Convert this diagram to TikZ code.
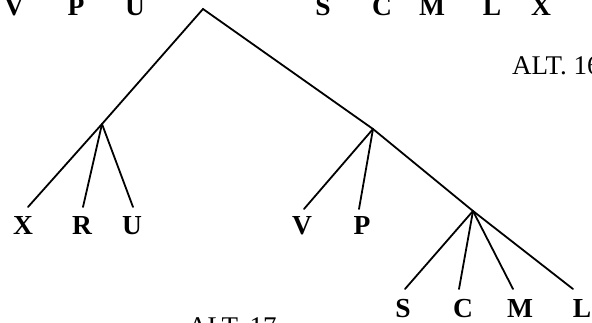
\documentclass[tikz,border=0pt]{standalone}
\usepackage{fontspec}
\setmainfont{Liberation Serif}
\begin{document}
\begin{tikzpicture}[x=1pt,y=-1pt,
  edge/.style={line width=1.8pt,line cap=round,line join=miter},
  leaf/.style={font=\fontsize{27.5}{30}\selectfont\bfseries,anchor=base,inner sep=0pt},
  altlbl/.style={font=\fontsize{27}{30}\selectfont,anchor=base west,inner sep=0pt}]
\useasboundingbox (0,0) rectangle (592,323);
% tree points
\coordinate (r) at (203,9);
\coordinate (a) at (102,124);
\coordinate (b) at (373,129);
\coordinate (c) at (473,211);
\coordinate (ex) at (28,207);
\coordinate (er) at (83,207);
\coordinate (eu) at (133,207);
\coordinate (ev) at (304,209);
\coordinate (ep) at (359,209);
\coordinate (es) at (405,289);
\coordinate (ec) at (459,289);
\coordinate (em) at (513,289);
\coordinate (el) at (573,289);
% connectors
\draw[edge] (a) -- (r) -- (b) -- (c) -- (el);
\draw[edge] (a) -- (ex);
\draw[edge] (a) -- (er);
\draw[edge] (a) -- (eu);
\draw[edge] (b) -- (ev);
\draw[edge] (b) -- (ep);
\draw[edge] (c) -- (es);
\draw[edge] (c) -- (ec);
\draw[edge] (c) -- (em);
% leaf labels
\node[leaf] (lx) at (23,235) {X};
\node[leaf] (lr) at (82,235) {R};
\node[leaf] (lu) at (132,235) {U};
\node[leaf] (lv) at (302,235) {V};
\node[leaf] (lp) at (362,235) {P};
\node[leaf] (ls) at (403,317) {S};
\node[leaf] (lc) at (463,317) {C};
\node[leaf] (lm) at (520,317) {M};
\node[leaf] (ll) at (582,317) {L};
% top row
\node[leaf] (tv) at (14,15.5) {V};
\node[leaf] (tp) at (76,15.5) {P};
\node[leaf] (tu) at (135,15.5) {U};
\node[leaf] (ts) at (323,15.5) {S};
\node[leaf] (tc) at (382,15.5) {C};
\node[leaf] (tm) at (432,15.5) {M};
\node[leaf] (tl) at (492,15.5) {L};
\node[leaf] (tx) at (541,15.5) {X};
% alternative labels
\node[altlbl] (alt16) at (512,75) {ALT. 16};
\node[altlbl] (alt17) at (188,335) {ALT. 17};
\end{tikzpicture}
\end{document}
